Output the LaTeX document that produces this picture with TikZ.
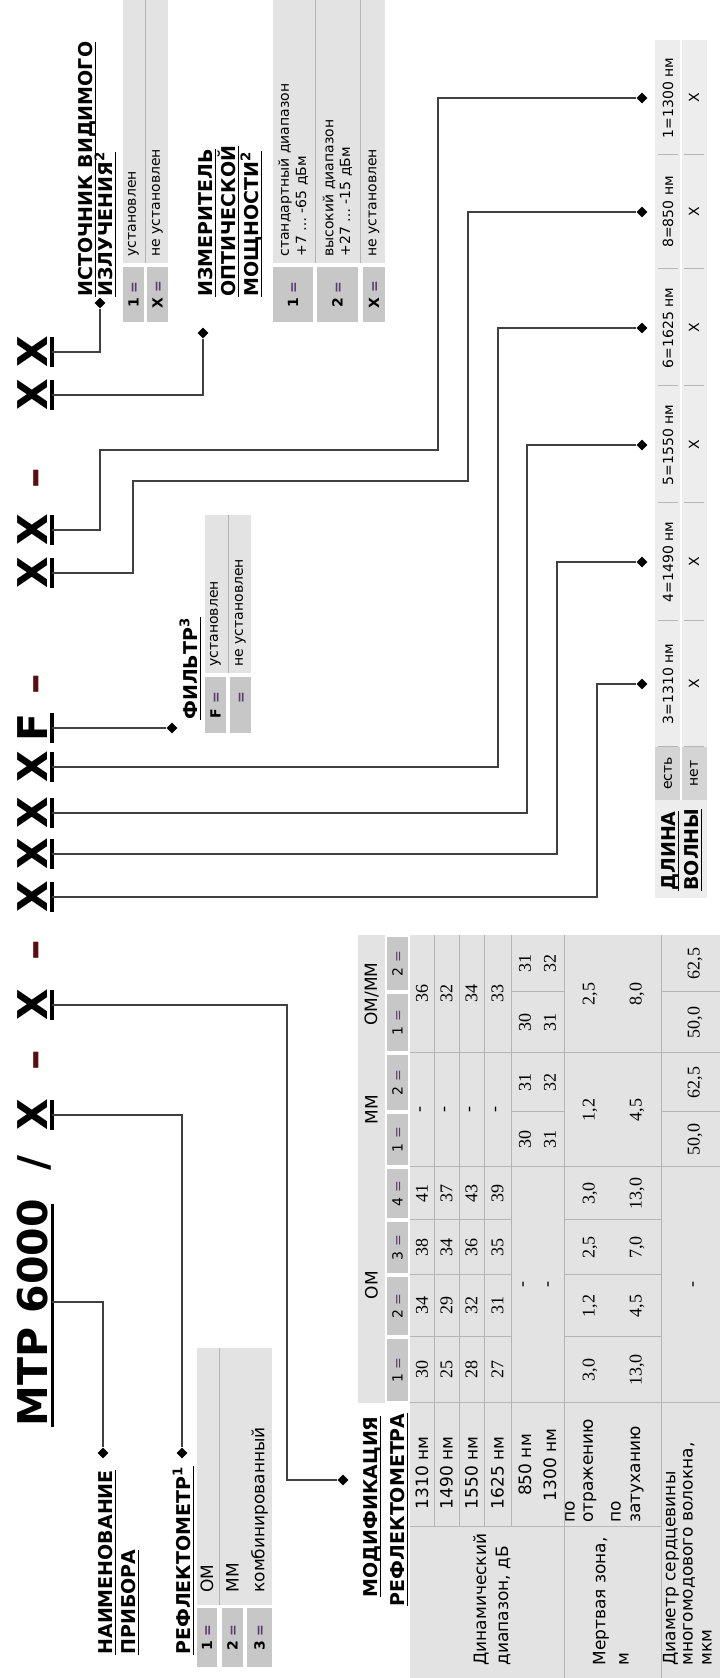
\documentclass[tikz,border=0pt]{standalone}
\usepackage{fontspec}
\setmainfont{DejaVu Sans}
\newfontfamily\numfont{Liberation Serif}
\usetikzlibrary{shapes.geometric}
\newsavebox\hdbox
\newcommand\hdline[1]{\sbox\hdbox{#1}\rlap{\rule[-2.2pt]{\wd\hdbox}{0.8pt}}\usebox\hdbox}
\newcommand\boxeq{\textcolor{mycolor5A3C6E}{=}}

\begin{document}
\begin{tikzpicture}[x=0.5pt,y=-0.5pt,
  ttl/.style={font=\fontsize{20.5}{24}\selectfont\bfseries,inner sep=0,anchor=base},
  hdr/.style={font=\fontsize{9.5}{11}\selectfont\bfseries,inner sep=0,anchor=base west},
  hdre/.style={hdr,anchor=base east},
  sm/.style={font=\fontsize{7}{8}\selectfont,inner sep=0,anchor=west},
  smc/.style={sm,anchor=center},
  mt/.style={font=\fontsize{8.5}{10}\selectfont,inner sep=0,anchor=west},
  mtc/.style={mt,anchor=center},
  num/.style={font=\numfont\fontsize{9}{10}\selectfont,inner sep=0,anchor=center},
  bx/.style={font=\fontsize{7}{8}\selectfont\bfseries,inner sep=0,anchor=center},
  dia/.style={shape=diamond,fill=black,inner sep=0,minimum size=5.5pt},
  conn/.style={draw=mycolor404040,line width=0.9pt},
  bar/.style={draw=black,line width=2pt},
  rowl/.style={draw=mycolorB4B4B4,line width=0.5pt}]
\definecolor{mycolorC8C8C8}{rgb}{0.78,0.78,0.78}
\definecolor{mycolorE3E3E3}{rgb}{0.89,0.89,0.89}
\definecolor{mycolorEEEEEE}{rgb}{0.93,0.93,0.93}
\definecolor{mycolorD4D4D4}{rgb}{0.83,0.83,0.83}
\definecolor{mycolorB4B4B4}{rgb}{0.71,0.71,0.71}
\definecolor{mycolor404040}{rgb}{0.25,0.25,0.25}
\definecolor{mycolor5A1010}{rgb}{0.35,0.06,0.06}
\definecolor{mycolor5A3C6E}{rgb}{0.35,0.24,0.43}
\useasboundingbox (0pt,0pt) rectangle (360pt,839pt);
\fill[white] (0pt,0pt) rectangle (360pt,839pt);
\begin{scope}[rotate=90,transform shape]
\clip (0,0) rectangle (1678,720);
% title
\node[ttl,anchor=base west] (tName) at (251,47) {МТР 6000};
\node[ttl] (tSlash) at (515,47) {/};
\node[ttl] (tRefl) at (563,47) {X};
\node[ttl,text=mycolor5A1010] (tDash1) at (618,47) {--};
\node[ttl] (tMod) at (673,47) {X};
\node[ttl,text=mycolor5A1010] (tDash2) at (728,47) {--};
\node[ttl] (tW1) at (781,47) {X};
\node[ttl] (tW2) at (824,47) {X};
\node[ttl] (tW3) at (865,47) {X};
\node[ttl] (tW4) at (911,47) {X};
\node[ttl] (tF) at (950,47) {F};
\node[ttl,text=mycolor5A1010] (tDash3) at (994,47) {--};
\node[ttl] (tW5) at (1105,47) {X};
\node[ttl] (tW6) at (1148,47) {X};
\node[ttl,text=mycolor5A1010] (tDash4) at (1200,47) {--};
\node[ttl] (tPm) at (1283,47) {X};
\node[ttl] (tVs) at (1326,47) {X};
\draw[draw=black,line width=1.5pt] (251,52) -- (474,52);
\foreach \p in {563,673,781,824,865,911,950,1105,1148,1283,1326}
  \draw[bar] (\p-15,52) -- (\p+15,52);
\coordinate (bName) at (376,52);
\coordinate (bRefl) at (563,52);
\coordinate (bMod) at (673,52);
\coordinate (bW1) at (781,52);
\coordinate (bW2) at (824,52);
\coordinate (bW3) at (865,52);
\coordinate (bW4) at (911,52);
\coordinate (bF) at (950,52);
\coordinate (bW5) at (1105,52);
\coordinate (bW6) at (1148,52);
\coordinate (bPm) at (1283,52);
\coordinate (bVs) at (1326,52);
% headings
\node[hdr] (lName1) at (23,112) {\hdline{НАИМЕНОВАНИЕ}};
\node[hdr] (lName2) at (23,135) {\hdline{ПРИБОРА}};
\node[hdr] (lRefl) at (23,190) {\hdline{РЕФЛЕКТОМЕТР\textsuperscript{1}}};
\node[hdre] (lMod1) at (262,377) {\hdline{МОДИФИКАЦИЯ}};
\node[hdre] (lMod2) at (265,404) {\hdline{РЕФЛЕКТОМЕТРА}};
\node[hdr] (lF) at (958,197) {\hdline{ФИЛЬТР\textsuperscript{3}}};
\node[hdr] (lVs1) at (1381,92) {\hdline{ИСТОЧНИК ВИДИМОГО}};
\node[hdr] (lVs2) at (1381,112) {\hdline{ИЗЛУЧЕНИЯ\textsuperscript{2}}};
\node[hdr] (lPm1) at (1381,212) {\hdline{ИЗМЕРИТЕЛЬ}};
\node[hdr] (lPm2) at (1381,235) {\hdline{ОПТИЧЕСКОЙ}};
\node[hdr] (lPm3) at (1381,258) {\hdline{МОЩНОСТИ\textsuperscript{2}}};
% diamonds
\node[dia] (dName) at (225,103) {};
\node[dia] (dRefl) at (225,182) {};
\node[dia] (dMod) at (198,343) {};
\node[dia] (dF) at (950,172) {};
\node[dia] (dVs) at (1375,100) {};
\node[dia] (dPm) at (1345,203) {};
\node[dia] (dW1310) at (994,642) {};
\node[dia] (dW1490) at (1116,642) {};
\node[dia] (dW1550) at (1233,642) {};
\node[dia] (dW1625) at (1350,642) {};
\node[dia] (dW850) at (1466,642) {};
\node[dia] (dW1300) at (1580,642) {};
% connectors
\draw[conn] (bName) |- (dName);
\draw[conn] (bRefl) |- (dRefl);
\draw[conn] (bMod) -- (bMod |- 0,287) -| (dMod);
\draw[conn] (bF) -- (dF);
\draw[conn] (bW1) -- (bW1 |- 0,597) -| (dW1310);
\draw[conn] (bW2) -- (bW2 |- 0,557) -| (dW1490);
\draw[conn] (bW3) -- (bW3 |- 0,527) -| (dW1550);
\draw[conn] (bW4) -- (bW4 |- 0,498) -| (dW1625);
\draw[conn] (bW5) -- (bW5 |- 0,133) -| (1197,468) -| (dW850);
\draw[conn] (bW6) -- (bW6 |- 0,100) -| (1228,438) -| (dW1300);
\draw[conn] (bPm) |- (dPm);
\draw[conn] (bVs) |- (dVs);
% reflectometer table
\fill[mycolorC8C8C8] (11,197) rectangle (70,217);
\fill[mycolorC8C8C8] (11,222) rectangle (70,243);
\fill[mycolorC8C8C8] (11,247) rectangle (70,272);
\fill[mycolorE3E3E3] (73,197) rectangle (330,272);
\draw[rowl] (73,219.5) -- (330,219.5);
\node[bx] (rf1k) at (40.5,207) {1 \boxeq};
\node[bx] (rf2k) at (40.5,232.5) {2 \boxeq};
\node[bx] (rf3k) at (40.5,259.5) {3 \boxeq};
\node[mt] (rf1t) at (85,207) {ОМ};
\node[mt] (rf2t) at (85,232.5) {ММ};
\node[mt] (rf3t) at (85,259.5) {комбинированный};
% filter table
\fill[mycolorC8C8C8] (945,205) rectangle (1001,226);
\fill[mycolorC8C8C8] (945,230) rectangle (1001,251);
\fill[mycolorE3E3E3] (1005,205) rectangle (1163,251);
\draw[rowl] (1005,228) -- (1163,228);
\node[bx] (fl1k) at (973,215.5) {F \boxeq};
\node[bx] (fl2k) at (973,240.5) {\phantom{F} \boxeq};
\node[sm] (fl1t) at (1011,215.5) {установлен};
\node[sm] (fl2t) at (1011,240.5) {не установлен};
% visible source table
\fill[mycolorC8C8C8] (1356,123) rectangle (1411,144);
\fill[mycolorC8C8C8] (1356,147) rectangle (1411,168);
\fill[mycolorE3E3E3] (1415,123) rectangle (1678,168);
\draw[rowl] (1415,145.5) -- (1678,145.5);
\node[bx] (vs1k) at (1383.5,133.5) {1 \boxeq};
\node[bx] (vs2k) at (1383.5,157.5) {X \boxeq};
\node[sm] (vs1t) at (1421,133.5) {установлен};
\node[sm] (vs2t) at (1421,157.5) {не установлен};
% power meter table
\fill[mycolorC8C8C8] (1356,273) rectangle (1411,313);
\fill[mycolorC8C8C8] (1356,317) rectangle (1411,358);
\fill[mycolorC8C8C8] (1356,363) rectangle (1411,385);
\fill[mycolorE3E3E3] (1415,273) rectangle (1678,385);
\draw[rowl] (1415,315) -- (1678,315);
\draw[rowl] (1415,360.5) -- (1678,360.5);
\node[bx] (pm1k) at (1383.5,293) {1 \boxeq};
\node[bx] (pm2k) at (1383.5,337.5) {2 \boxeq};
\node[bx] (pm3k) at (1383.5,374) {X \boxeq};
\node[sm] (pm1t) at (1421,285) {стандартный диапазон};
\node[sm] (pm1r) at (1421,302) {+7 … -65 дБм};
\node[sm] (pm2t) at (1421,329) {высокий диапазон};
\node[sm] (pm2r) at (1421,346) {+27 … -15 дБм};
\node[sm] (pm3t) at (1421,374) {не установлен};
% wavelength table
\fill[mycolorEEEEEE] (780,655) rectangle (878,707);
\fill[mycolorD4D4D4] (878,655) rectangle (931,707);
\fill[mycolorEEEEEE] (931,655) rectangle (1638,707);
\draw[white,line width=0.8pt] (878,681) -- (1638,681);
\node[hdr] (lWl1) at (787,675) {\hdline{ДЛИНА}};
\node[hdr] (lWl2) at (787,698) {\hdline{ВОЛНЫ}};
\node[smc] (wYes) at (904.5,668) {есть};
\node[smc] (wNo) at (904.5,694) {нет};
\foreach \x in {931,1057,1175,1292,1409,1523}{
  \draw[rowl] (\x,658) -- (\x,678);
  \draw[rowl] (\x,684) -- (\x,704);
}
\foreach \x/\t [count=\i] in {994/3=1310 нм,1116/4=1490 нм,1233/5=1550 нм,1350/6=1625 нм,1466/8=850 нм,1580/1=1300 нм}{
  \node[smc] (wl\i) at (\x,668) {\t};
  \node[smc] (wx\i) at (\x,694) {X};
}
% modification table
\fill[mycolorE3E3E3] (275,358) rectangle (743,385);
\fill[mycolorE3E3E3] (0,410) rectangle (743,720);
\foreach \a/\b/\t [count=\i] in {275/341/1,341/403/2,403/458/3,458/511/4,511/566/1,566/625/2,625/686/1,686/743/2}{
  \fill[mycolorC8C8C8] (\a+2,387) rectangle (\b-2,408);
  \node[font=\fontsize{7}{8}\selectfont,inner sep=0] (hk\i) at ({(\a+\b)/2},397.5) {\t\ \boxeq};
}
\node[mtc] (hOm) at (393,371.5) {ОМ};
\node[mtc] (hMm) at (568,371.5) {ММ};
\node[mtc] (hOmMm) at (684,371.5) {ОМ/ММ};
\draw[rowl] (151,410) -- (151,661);
\draw[rowl] (275,410) -- (275,720);
\draw[rowl] (511,410) -- (511,720);
\draw[rowl] (625,410) -- (625,720);
\foreach \x in {341,403,458}{
  \draw[rowl] (\x,410) -- (\x,511);
  \draw[rowl] (\x,564) -- (\x,661);
}
\foreach \x in {566,686}{
  \draw[rowl] (\x,511) -- (\x,564);
  \draw[rowl] (\x,661) -- (\x,720);
}
\foreach \y in {434,459,484,511}
  \draw[rowl] (151,\y) -- (743,\y);
\draw[rowl] (0,564) -- (743,564);
\draw[rowl] (0,661) -- (743,661);
\node[mt] (lDyn1) at (12,481) {Динамический};
\node[mt] (lDyn2) at (12,503) {диапазон, дБ};
\node[mt] (lDz1) at (12,601) {Мертвая зона,};
\node[mt] (lDz2) at (12,624) {м};
\node[mt] (lDm1) at (12,671) {Диаметр сердцевины};
\node[mt] (lDm2) at (12,689) {многомодового волокна,};
\node[mt] (lDm3) at (12,707) {мкм};
\foreach \y/\w/\a/\b/\c/\d/\m [count=\r] in {422/1310/30/34/38/41/36,446.5/1490/25/29/34/37/32,471.5/1550/28/32/36/43/34,497.5/1625/27/31/35/39/33}{
  \node[mtc] (wv\r) at (205,\y) {\w~нм};
  \node[num] (oa\r) at (308,\y) {\a};
  \node[num] (ob\r) at (372,\y) {\b};
  \node[num] (oc\r) at (430.5,\y) {\c};
  \node[num] (od\r) at (484.5,\y) {\d};
  \node[num] (mm\r) at (568,\y) {-};
  \node[num] (om\r) at (684,\y) {\m};
}
\node[mtc] (wv5) at (213,525) {850 нм};
\node[mtc] (wv6) at (213,550) {1300 нм};
\node[num] (oe1) at (393,525) {-};
\node[num] (oe2) at (393,550) {-};
\foreach \x/\u/\v [count=\i] in {538.5/30/31,595.5/31/32,655.5/30/31,714.5/31/32}{
  \node[num] (ra\i) at (\x,525) {\u};
  \node[num] (rb\i) at (\x,550) {\v};
}
\node[mt] (dz1) at (155,570) {по};
\node[mt] (dz2) at (155,590) {отражению};
\node[mt] (dz3) at (155,616) {по};
\node[mt] (dz4) at (155,637) {затуханию};
\foreach \x/\u/\v [count=\i] in {308/{3,0}/{13,0},372/{1,2}/{4,5},430.5/{2,5}/{7,0},484.5/{3,0}/{13,0},568/{1,2}/{4,5},684/{2,5}/{8,0}}{
  \node[num] (za\i) at (\x,590) {\u};
  \node[num] (zb\i) at (\x,637) {\v};
}
\node[num] (dm0) at (393,695) {-};
\foreach \x/\u [count=\i] in {538.5/{50,0},595.5/{62,5},655.5/{50,0},714.5/{62,5}}
  \node[num] (dm\i) at (\x,695) {\u};
\end{scope}
\end{tikzpicture}
\end{document}
